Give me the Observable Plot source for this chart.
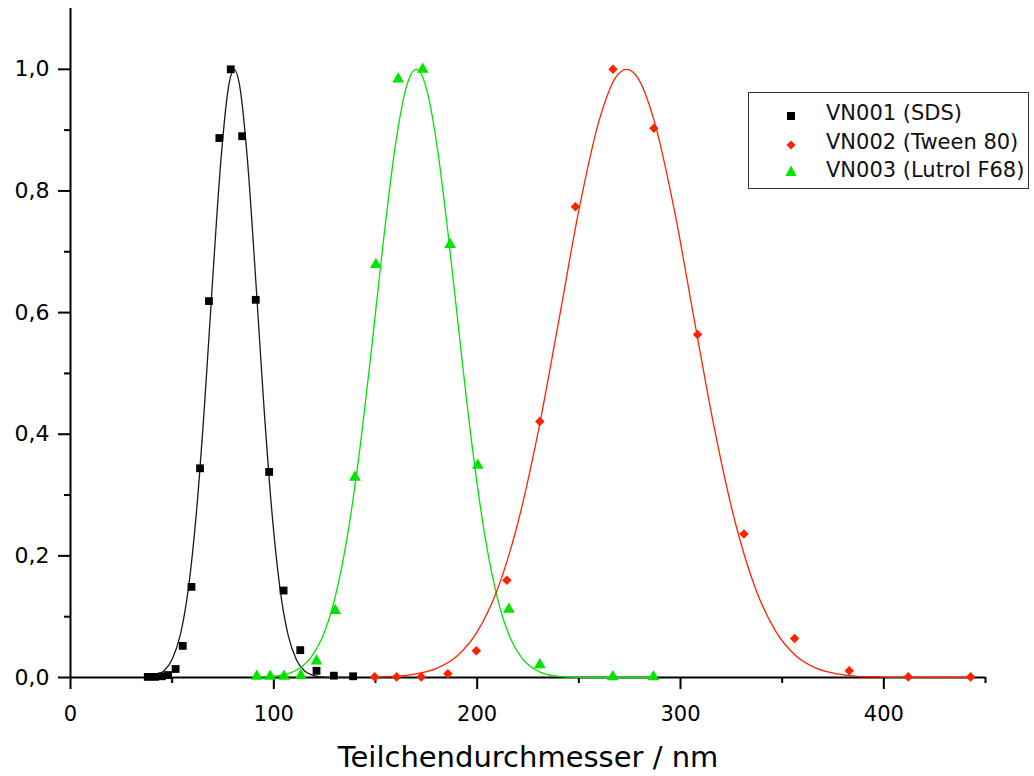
<!DOCTYPE html>
<html><head><meta charset="utf-8">
<script src="https://cdn.jsdelivr.net/npm/d3@7"></script>
<script src="https://cdn.jsdelivr.net/npm/@observablehq/plot@0.6"></script>
<style>
body{margin:0;background:#fff;}
#wrap{position:relative;width:1034px;height:776px;font-family:"DejaVu Sans",sans-serif;}
#legend{position:absolute;left:748px;top:92px;width:281px;height:97px;border:1.5px solid #333;background:#fff;box-sizing:border-box;}
.mk{position:absolute;}
.lt{position:absolute;font-size:21px;line-height:24px;color:#111;white-space:nowrap;}
</style></head><body><div id="wrap"></div>
<script>
// Measured points
const vn001X = [38, 41.5, 45, 48, 51.7, 55.2, 59.5, 63.7, 68.1, 73.2, 78.8, 84.4, 91.1, 97.7, 104.8, 113, 121, 129.5, 139];
const vn001Y = [0.001, 0.001, 0.002, 0.004, 0.014, 0.052, 0.149, 0.344, 0.619, 0.887, 1.0, 0.890, 0.621, 0.338, 0.143, 0.045, 0.011, 0.003, 0.002];
const vn002X = [149.6, 160.4, 172.5, 185.6, 199.6, 214.6, 230.8, 248.3, 266.8, 286.9, 308.4, 331.2, 356.1, 383, 412, 442.7];
const vn002Y = [0.001, 0.001, 0.001, 0.006, 0.044, 0.160, 0.421, 0.774, 1.0, 0.903, 0.564, 0.236, 0.064, 0.011, 0.001, 0.001];
const vn003X = [91.6, 98.2, 105, 113.3, 121, 130.2, 139.9, 150.2, 161.2, 173.2, 186.7, 200.3, 215.6, 230.8, 266.7, 286.7];
const vn003Y = [0.002, 0.002, 0.002, 0.003, 0.027, 0.11, 0.329, 0.679, 0.984, 1.0, 0.712, 0.349, 0.112, 0.021, 0.001, 0.001];

// Fitted curves
const fit001X = [38,42,46,50,54,58,62,66,70,74,78,80.5,83,87,91,95,99,103,107,111,115,119,123,127,131,139];
const fit001Y = [0.001,0.004,0.011,0.030,0.070,0.147,0.274,0.452,0.659,0.852,0.977,1.0,0.977,0.852,0.659,0.452,0.274,0.147,0.070,0.030,0.011,0.004,0.001,0.0003,0.0001,0];
const fit002X = [150,160,170,180,190,200,210,220,230,240,250,260,268,273.5,279,287,297,307,317,327,337,347,357,367,377,387,397,410,443];
const fit002Y = [0.001,0.002,0.006,0.015,0.035,0.075,0.145,0.254,0.404,0.584,0.768,0.916,0.986,1.0,0.986,0.916,0.768,0.584,0.404,0.254,0.145,0.075,0.035,0.015,0.006,0.002,0.001,0.0001,0];
const fit003X = [91,100,106,112,118,124,130,136,142,148,154,160,165,170,175,180,186,192,198,204,210,216,222,228,234,240,249,260,287];
const fit003Y = [0.0003,0.002,0.005,0.014,0.032,0.067,0.130,0.229,0.368,0.539,0.721,0.880,0.969,1.0,0.969,0.880,0.721,0.539,0.368,0.229,0.130,0.067,0.032,0.014,0.005,0.002,0.0003,0,0];

// Axis ticks & labels
const xMajor = [0, 100, 200, 300, 400];
const xMinor = [50, 150, 250, 350, 450];
const yMajor = [0, 0.2, 0.4, 0.6, 0.8, 1.0];
const yMinor = [0.1, 0.3, 0.5, 0.7, 0.9];
const seriesNames = ["VN001 (SDS)", "VN002 (Tween 80)", "VN003 (Lutrol F68)"];
const seriesColors = ["#000000", "#ff2200", "#00e400"];
const xTitle = "Teilchendurchmesser / nm";

const zip = (xs, ys) => xs.map((x, i) => ({x, y: ys[i]}));
const d1 = zip(vn001X, vn001Y), d2 = zip(vn002X, vn002Y), d3p = zip(vn003X, vn003Y);
const f1 = zip(fit001X, fit001Y), f2 = zip(fit002X, fit002Y), f3 = zip(fit003X, fit003Y);

const chart = Plot.plot({
  width: 1034, height: 776,
  marginLeft: 70, marginRight: 49, marginTop: 8, marginBottom: 99,
  style: {fontFamily: "DejaVu Sans, sans-serif", background: "#fff", color: "#000"},
  x: {domain: [0, 450]},
  y: {domain: [0, 1.1]},
  marks: [
    Plot.axisX({ticks: xMinor, tickSize: 6, strokeWidth: 2, tickFormat: () => "", label: null}),
    Plot.axisY({ticks: yMinor, tickSize: 6, strokeWidth: 2, tickFormat: () => "", label: null}),
    Plot.axisX({ticks: xMajor, tickSize: 12, strokeWidth: 2, tickPadding: 17, fontSize: 21, tickFormat: d => String(d), label: null}),
    Plot.axisY({ticks: yMajor, tickSize: 12, strokeWidth: 2, tickPadding: 9, fontSize: 22, tickFormat: d => d.toFixed(1).replace(".", ","), label: null}),
    Plot.ruleX([0], {strokeWidth: 2}),
    Plot.ruleY([0], {strokeWidth: 2}),
    Plot.line(f1, {x: "x", y: "y", stroke: "#1a1a1a", strokeWidth: 1.3, curve: "monotone-x"}),
    Plot.line(f3, {x: "x", y: "y", stroke: seriesColors[2], strokeWidth: 1.3, curve: "monotone-x"}),
    Plot.line(f2, {x: "x", y: "y", stroke: seriesColors[1], strokeWidth: 1.3, curve: "monotone-x"}),
    Plot.dot(d1, {x: "x", y: "y", symbol: "square", r: 4.4, fill: seriesColors[0], stroke: null}),
    Plot.dot(d2, {x: "x", y: "y", symbol: "diamond2", r: 4.3, fill: seriesColors[1], stroke: null}),
    Plot.dot(d3p, {x: "x", y: "y", symbol: "triangle", r: 4.4, fill: seriesColors[2], stroke: null}),
    Plot.text([xTitle], {text: d => d, frameAnchor: "bottom", dy: 89, fontSize: 29, fill: "#000"})
  ]
});
const wrap = document.getElementById("wrap");
wrap.appendChild(chart);

// Legend (HTML overlay inside the plot frame)
const legend = document.createElement("div");
legend.id = "legend";
const rowY = [20, 49, 77];
const markers = [
  '<svg width="12" height="12"><rect x="2" y="2" width="8" height="8" fill="#000"/></svg>',
  '<svg width="12" height="12"><path d="M6 1.5L10.5 6L6 10.5L1.5 6Z" fill="#ff2200"/></svg>',
  '<svg width="14" height="14"><path d="M7 1.5L12.5 12L1.5 12Z" fill="#00e400"/></svg>'
];
seriesNames.forEach((name, i) => {
  const m = document.createElement("div");
  m.className = "mk";
  m.innerHTML = markers[i];
  m.style.left = (i === 2 ? 35 : 36) + "px";
  m.style.top = (rowY[i] - (i === 2 ? 7 : 6)) + "px";
  legend.appendChild(m);
  const t = document.createElement("div");
  t.className = "lt";
  t.textContent = name;
  t.style.left = "77px";
  t.style.top = (rowY[i] - 12) + "px";
  legend.appendChild(t);
});
wrap.appendChild(legend);
</script>
</body></html>
